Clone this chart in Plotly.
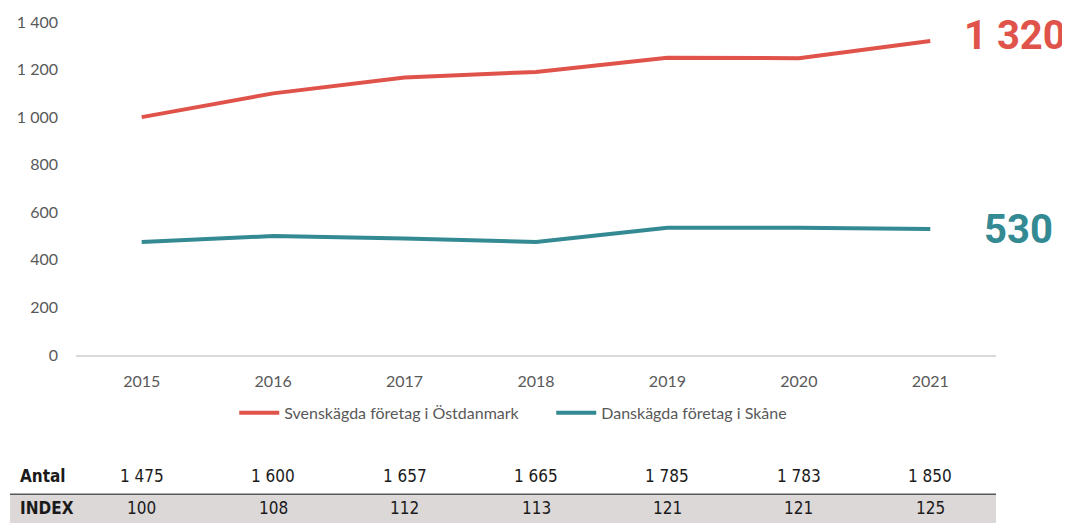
import plotly.graph_objects as go

# data
years = ["2015", "2016", "2017", "2018", "2019", "2020", "2021"]
sv_i_dk = [1000, 1100, 1167, 1190, 1250, 1248, 1320]   # Svenskägda företag i Östdanmark
dk_i_sk = [475, 500, 490, 475, 535, 535, 530]          # Danskägda företag i Skåne
antal = [1475, 1600, 1657, 1665, 1785, 1783, 1850]
index = [100, 108, 112, 113, 121, 121, 125]

RED = "#e0534a"
TEAL = "#338a93"
GREY = "#595959"
TABLE_FONT = "DejaVu Sans Condensed, Liberation Sans Narrow, Roboto"


def fmt(v):
    return f"{v:,}".replace(",", " ")


fig = go.Figure()
fig.add_trace(go.Scatter(x=years, y=sv_i_dk, mode="lines", name="Svenskägda företag i Östdanmark",
                         line=dict(color=RED, width=4)))
fig.add_trace(go.Scatter(x=years, y=dk_i_sk, mode="lines", name="Danskägda företag i Skåne",
                         line=dict(color=TEAL, width=4)))

last = len(years) - 1  # category index of the last year

# big end labels
fig.add_annotation(x=last, y=sv_i_dk[-1], text=f"<b>{fmt(sv_i_dk[-1])}</b>", showarrow=False,
                   xanchor="left", xshift=32, yshift=6, font=dict(family="Roboto", size=40, color=RED))
fig.add_annotation(x=last, y=dk_i_sk[-1], text=f"<b>{fmt(dk_i_sk[-1])}</b>", showarrow=False,
                   xanchor="left", xshift=52, yshift=-1, font=dict(family="Roboto", size=40, color=TEAL))

# table under the chart
fig.add_shape(type="rect", xref="paper", yref="paper", x0=-0.0717, x1=1.0, y0=-0.418, y1=-0.52,
              fillcolor="#dcd8d8", line=dict(width=0), layer="below")
fig.add_shape(type="line", xref="paper", yref="paper", x0=-0.0717, x1=1.0, y0=-0.418, y1=-0.418,
              line=dict(color=GREY, width=1.5))

tfont = dict(family=TABLE_FONT, size=17, color="#1a1a1a")
fig.add_annotation(xref="paper", yref="paper", x=-0.063, y=-0.363, yanchor="middle", text="<b>Antal</b>",
                   showarrow=False, xanchor="left", font=tfont)
fig.add_annotation(xref="paper", yref="paper", x=-0.063, y=-0.459, yanchor="middle", text="<b>INDEX</b>",
                   showarrow=False, xanchor="left", font=tfont)
for i, (a, ix) in enumerate(zip(antal, index)):
    fig.add_annotation(x=i, yref="paper", y=-0.363, yanchor="middle", text=fmt(a), showarrow=False, font=tfont)
    fig.add_annotation(x=i, yref="paper", y=-0.459, yanchor="middle", text=str(ix), showarrow=False, font=tfont)

# the page body adds an 8px margin, so the figure is drawn 8px smaller
fig.update_layout(
    width=1062, height=515,
    margin=dict(l=68, r=74, t=14, b=168, autoexpand=False),
    plot_bgcolor="white", paper_bgcolor="white",
    separators=", ",
    font=dict(family="Lato, Open Sans, sans-serif", size=16, color=GREY),
    showlegend=True,
    legend=dict(orientation="h", x=0.172, xanchor="left", y=-0.174, yanchor="middle",
                font=dict(size=16, color=GREY), itemwidth=40, tracegroupgap=0,
                entrywidth=262, entrywidthmode="pixels"),
)
fig.update_xaxes(type="category", showgrid=False, showline=True, linecolor="#d9d9d9", linewidth=1.5,
                 range=[-0.5, 6.5], ticks="", ticklabelstandoff=11, zeroline=False)
fig.update_yaxes(showgrid=False, showline=False, zeroline=False, range=[0, 1400],
                 tickvals=[0, 200, 400, 600, 800, 1000, 1200, 1400], tickformat=",d",
                 ticks="", ticklabelstandoff=17)

fig.write_html("out.html")
